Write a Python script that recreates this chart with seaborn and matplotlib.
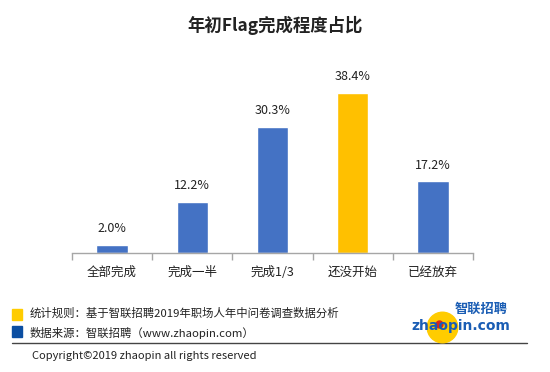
import numpy as np
import matplotlib
matplotlib.use("Agg")
import matplotlib.pyplot as plt
from matplotlib.lines import Line2D
import seaborn as sns

# data
categories = ["全部完成", "完成一半", "完成1/3", "还没开始", "已经放弃"]
values = [2.0, 12.2, 30.3, 38.4, 17.2]
bar_colors = ["#4472C4", "#4472C4", "#4472C4", "#FFC000", "#4472C4"]

sns.set_theme(style="white")
plt.rcParams["font.family"] = ["Noto Sans CJK SC", "DejaVu Sans"]

W, H = 550, 372
fig = plt.figure(figsize=(W / 100, H / 100), dpi=100)
ax = fig.add_axes([72 / W, 1 - 253 / H, 401 / W, 187.5 / H])

sns.barplot(x=categories, y=values, hue=categories, palette=bar_colors,
            legend=False, width=0.39, saturation=1, ax=ax)

for c in ax.containers:
    ax.bar_label(c, fmt="%.1f%%", padding=7, fontsize=9, color="#222222")

ax.set_ylim(0, 45)
ax.set_xlim(-0.5, 4.5)
ax.set_yticks([])
ax.set_xlabel("")
ax.set_ylabel("")
for s in ["top", "right", "left"]:
    ax.spines[s].set_visible(False)
ax.spines["bottom"].set_color("#a6a6a6")
ax.spines["bottom"].set_linewidth(1)
ax.set_xticks(np.arange(-0.5, 5, 1), minor=True)
ax.tick_params(axis="x", which="major", length=0, labelsize=9, pad=9, labelcolor="#222222")
ax.tick_params(axis="x", which="minor", length=5, color="#a6a6a6", width=1, bottom=True)

fig.text(0.5, 1 - 25 / H, "年初Flag完成程度占比", ha="center", va="center",
         fontsize=12.5, fontweight="bold", color="#222222")

# footer notes
fig.add_artist(plt.Rectangle((12 / W, 1 - 320 / H), 10 / W, 11 / H,
                             transform=fig.transFigure, color="#FFCC00"))
fig.add_artist(plt.Rectangle((12 / W, 1 - 337 / H), 10 / W, 11 / H,
                             transform=fig.transFigure, color="#0B4EA2"))
fig.text(30 / W, 1 - 313 / H, "统计规则：基于智联招聘2019年职场人年中问卷调查数据分析",
         fontsize=8.2, va="center", color="#222222")
fig.text(30 / W, 1 - 333 / H, "数据来源：智联招聘（www.zhaopin.com）",
         fontsize=8.2, va="center", color="#222222")
fig.add_artist(Line2D([12 / W, 527 / W], [1 - 343 / H, 1 - 343 / H],
                      transform=fig.transFigure, color="#444444", lw=1))
fig.text(32 / W, 1 - 356 / H, "Copyright©2019 zhaopin all rights reserved",
         fontsize=8, va="center", color="#222222")

# logo
fig.add_artist(Line2D([442 / W], [1 - 327 / H], marker="o", markersize=22,
                      color="#FFCC00", transform=fig.transFigure))
fig.add_artist(Line2D([439 / W], [1 - 324 / H], marker="o", markersize=5,
                      color="#D9261C", transform=fig.transFigure))
fig.text(481 / W, 1 - 309 / H, "智联招聘", ha="center", va="center", fontsize=9.5,
         fontweight="bold", color="#1A5DB4")
fig.text(461 / W, 1 - 326 / H, "zhaopin.com", ha="center", va="center", fontsize=10,
         fontweight="bold", color="#1A5DB4", family=["DejaVu Sans"])

fig.savefig("out.png", dpi=100, facecolor="white")
